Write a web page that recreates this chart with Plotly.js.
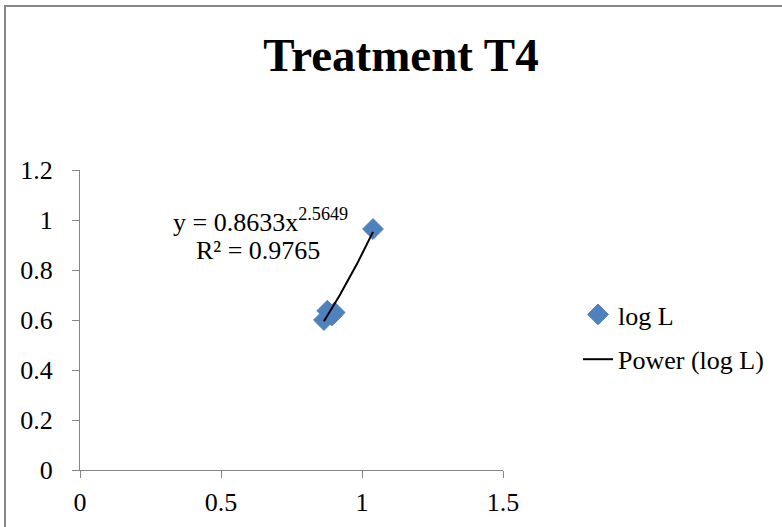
<!DOCTYPE html>
<html>
<head>
<meta charset="utf-8">
<script src="https://cdn.plot.ly/plotly-3.0.1.min.js"></script>
<style>
html,body{margin:0;padding:0;background:#fff;}
#chart{position:absolute;left:0;top:0;width:782px;height:527px;}
#frame{position:absolute;left:4px;top:5px;width:800px;height:600px;border-left:2px solid #888;border-top:2px solid #888;pointer-events:none;}
</style>
</head>
<body>
<div id="chart"></div>
<div id="frame"></div>
<script>
// Data
const xValues = [0.865, 0.877, 0.893, 0.903, 1.039];
const yValues = [0.600, 0.637, 0.618, 0.630, 0.964];
const seriesName = "log L";
const trendName = "Power (log L)";
// Power trendline coefficients as shown on the chart: y = a * x^b
const trendA = 0.8633;
const trendB = 2.5649;
const rSquared = 0.9765;
const xTicks = [0, 0.5, 1, 1.5];
const yTicks = [0, 0.2, 0.4, 0.6, 0.8, 1, 1.2];

const xMin = Math.min(...xValues), xMax = Math.max(...xValues);
const trendX = [], trendY = [];
for (let i = 0; i <= 40; i++) {
  const x = xMin + (xMax - xMin) * i / 40;
  trendX.push(x);
  trendY.push(trendA * Math.pow(x, trendB));
}

const serif = "Liberation Serif, Times New Roman, serif";
const fs = 26;

const traces = [
  {x: xValues, y: yValues, type: 'scatter', mode: 'markers', name: seriesName,
   legendgroup: 'a',
   marker: {symbol: 'diamond', size: 16, color: '#4F81BD', line: {color: '#4F81BD', width: 1}}},
  {x: trendX, y: trendY, type: 'scatter', mode: 'lines', name: trendName,
   legendgroup: 'b',
   line: {color: '#000', width: 2}}
];

const layout = {
  width: 782, height: 527,
  margin: {l: 80, r: 279, t: 170, b: 57, pad: 0},
  paper_bgcolor: '#fff', plot_bgcolor: '#fff',
  font: {family: serif, size: fs, color: '#000'},
  title: {text: '<b>Treatment T4</b>', font: {family: serif, size: 47, color: '#000'},
          xref: 'container', x: 401/782, xanchor: 'center',
          yref: 'container', y: 1 - 55/527, yanchor: 'middle'},
  xaxis: {range: [0, 1.5], tickvals: xTicks, ticktext: xTicks.map(String),
          showgrid: false, zeroline: false, showline: true, linecolor: '#868686', linewidth: 1,
          ticks: 'outside', ticklen: 7, tickcolor: '#868686', tickfont: {family: serif, size: fs},
          ticklabelstandoff: 2, fixedrange: true},
  yaxis: {range: [0, 1.2], tickvals: yTicks, ticktext: yTicks.map(String),
          showgrid: false, zeroline: false, showline: true, linecolor: '#868686', linewidth: 1,
          ticks: 'outside', ticklen: 7, tickcolor: '#868686', tickfont: {family: serif, size: fs},
          ticklabelstandoff: 14, fixedrange: true},
  showlegend: true,
  legend: {x: (578 - 80) / 423, xanchor: 'left', y: (470 - 337) / 300, yanchor: 'middle',
           font: {family: serif, size: fs}, traceorder: 'grouped', tracegroupgap: 8,
           bgcolor: 'rgba(0,0,0,0)'},
  annotations: [{
    xref: 'paper', yref: 'paper',
    x: (260 - 80) / 423, y: (470 - 220) / 300, xanchor: 'center', yanchor: 'middle',
    text: 'y = ' + trendA + 'x<sup>' + trendB + '</sup>',
    showarrow: false, font: {family: serif, size: fs, color: '#000'}
  }, {
    xref: 'paper', yref: 'paper',
    x: (258 - 80) / 423, y: (470 - 250) / 300, xanchor: 'center', yanchor: 'middle',
    text: 'R² = ' + rSquared,
    showarrow: false, font: {family: serif, size: fs, color: '#000'}
  }]
};

Plotly.newPlot('chart', traces, layout, {displayModeBar: false, staticPlot: true});
</script>
</body>
</html>
